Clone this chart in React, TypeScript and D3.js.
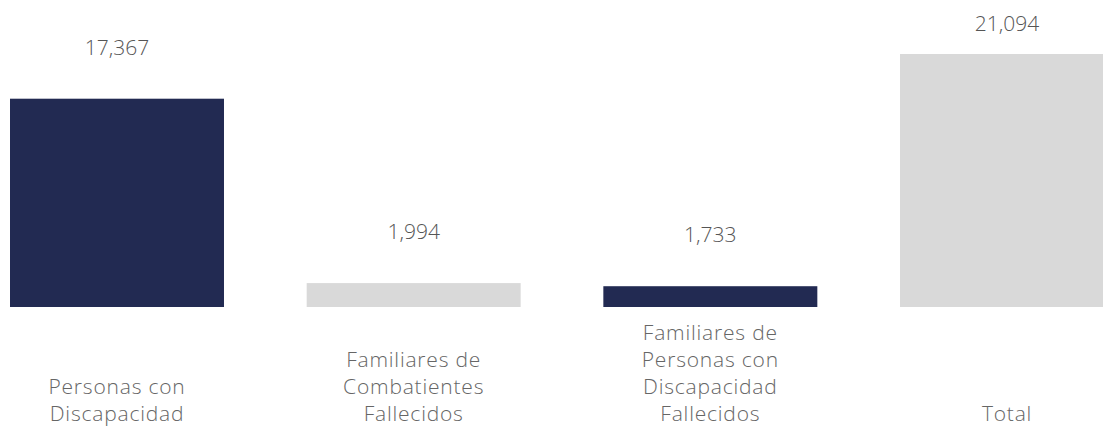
import * as d3 from 'd3';
import React, { useEffect, useRef } from 'react';

const categories = [
  'Personas con\nDiscapacidad',
  'Familiares de\nCombatientes\nFallecidos',
  'Familiares de\nPersonas con\nDiscapacidad\nFallecidos',
  'Total',
];
const values = [17367, 1994, 1733, 21094];
const barColors = ['#222a52', '#d9d9d9', '#222a52', '#d9d9d9'];

const width = 1103;
const height = 428;
const font = '"Open Sans", sans-serif';

const BarChart = () => {
  const svgRef = useRef(null);

  const renderSvg = () => {
    const svg = d3.select(svgRef.current);
    svg.selectAll('*').remove();

    const xScale = d3
      .scaleBand()
      .domain(categories)
      .range([10, 1114])
      .paddingInner(0.2787)
      .paddingOuter(0);
    const yScale = d3.scaleLinear().domain([0, 21094]).range([307, 54]);

    const data = categories.map((c, i) => ({ c, v: values[i], color: barColors[i] }));

    svg
      .append('g')
      .selectAll('rect')
      .data(data)
      .enter()
      .append('rect')
      .attr('x', (d) => xScale(d.c) as number)
      .attr('y', (d) => yScale(d.v))
      .attr('width', xScale.bandwidth())
      .attr('height', (d) => yScale(0) - yScale(d.v))
      .style('fill', (d) => d.color);

    const fmt = d3.format(',');

    svg
      .append('g')
      .selectAll('text')
      .data(data)
      .enter()
      .append('text')
      .attr('x', (d) => (xScale(d.c) as number) + xScale.bandwidth() / 2)
      .attr('y', (d) => Math.max(yScale(d.v) - 44, 31))
      .attr('text-anchor', 'middle')
      .style('font-family', font)
      .style('font-weight', 300)
      .style('font-size', '21px')
      .style('fill', '#555')
      .text((d) => fmt(d.v));

    const lineHeight = 27;
    const lastBaseline = 421;

    const labels = svg
      .append('g')
      .selectAll('text')
      .data(data)
      .enter()
      .append('text')
      .attr('text-anchor', 'middle')
      .style('font-family', font)
      .style('font-weight', 300)
      .style('font-size', '21px')
      .style('letter-spacing', '0.8px')
      .style('fill', '#666');

    labels.each(function (d) {
      const lines = d.c.split('\n');
      const x = (xScale(d.c) as number) + xScale.bandwidth() / 2;
      d3.select(this)
        .selectAll('tspan')
        .data(lines)
        .enter()
        .append('tspan')
        .attr('x', x)
        .attr('y', (_, j) => lastBaseline - (lines.length - 1 - j) * lineHeight)
        .text((l) => l);
    });
  };

  useEffect(() => {
    document.body.style.margin = '0';
    renderSvg();
  }, []);

  return <svg ref={svgRef} width={width} height={height} style={{ display: 'block' }} />;
};

export default function App() {
  return <BarChart />;
}
